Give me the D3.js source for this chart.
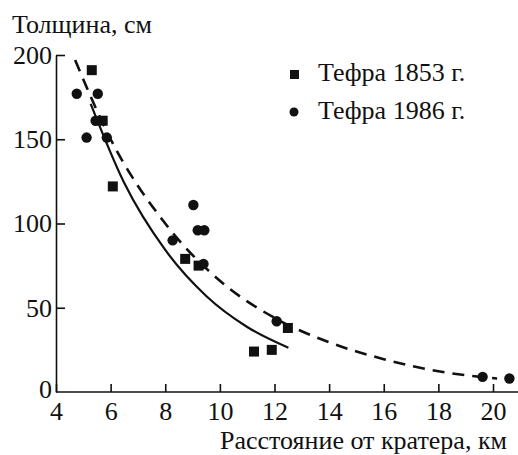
<!DOCTYPE html>
<html><head><meta charset="utf-8">
<script src="https://cdn.jsdelivr.net/npm/d3@7/dist/d3.min.js"></script>
</head><body style="margin:0">
<script>
// Data
const xTicks = [4, 6, 8, 10, 12, 14, 16, 18, 20];
const yTicks = [0, 50, 100, 150, 200];
const tephra1853 = [[5.31,191],[5.71,161],[6.08,122],[8.73,79],[9.22,75],[11.25,24],[11.9,25],[12.49,38]];
const tephra1986 = [[4.76,177],[5.12,151],[5.45,161],[5.53,177],[5.86,151],[8.27,90],[9.03,111],[9.19,96],[9.43,96],[9.4,76],[12.08,42],[19.62,9],[20.6,8]];
const fit1853 = [[5.27,171],[6.5,124],[8,84.3],[9.5,57],[11,38.6],[12.51,26.3]];
const fit1986 = [[4.7,197],[6,150],[8,100],[10,66],[12,44],[14,29.5],[16,19.5],[18,12.3],[20.15,8]];
const legendLabels = ["Тефра 1853 г.", "Тефра 1986 г."];

const W = 518, H = 455;
const FONT = "Liberation Serif";
const svg = d3.select("body").append("svg").attr("width", W).attr("height", H)
  .attr("font-family", FONT).style("font-family", FONT);
const ink = "#111";

const x = d3.scaleLinear().domain([4, 20]).range([56, 493]);
const y = d3.scaleLinear().domain([0, 200]).range([392, 55]);

// axes
const xAxis = d3.axisBottom(x).tickValues(xTicks).tickSize(-8).tickSizeOuter(0).tickPadding(10);
const gx = svg.append("g").attr("transform", `translate(0,${y(0)})`).call(xAxis);
gx.select(".domain").attr("d", `M${x(4)},0H518`);
const yAxis = d3.axisLeft(y).tickValues(yTicks).tickSize(-9).tickSizeOuter(0).tickPadding(4);
const gy = svg.append("g").attr("transform", `translate(${x(4)},0)`).call(yAxis);
gy.selectAll(".tick").filter(d => d === 0).select("line").remove();
[gx, gy].forEach(g => {
  g.attr("font-family", FONT).attr("font-size", 26);
  g.selectAll(".domain, .tick line").attr("stroke", ink).attr("stroke-width", 1.6);
  g.selectAll("text").attr("font-family", FONT).style("font-family", FONT)
    .attr("font-size", 26).attr("fill", ink);
});
gy.selectAll(".tick").filter(d => d === 0).select("text").attr("dy", "0.2em");

// fit lines
const line = d3.line().x(d => x(d[0])).y(d => y(d[1])).curve(d3.curveMonotoneX);
svg.append("path").datum(fit1853).attr("d", line).attr("fill", "none")
  .attr("stroke", ink).attr("stroke-width", 2.2);
svg.append("path").datum(fit1986).attr("d", line).attr("fill", "none")
  .attr("stroke", ink).attr("stroke-width", 2.6).attr("stroke-dasharray", "12,8");

// markers
svg.append("g").selectAll("rect").data(tephra1853).join("rect")
  .attr("x", d => x(d[0]) - 5).attr("y", d => y(d[1]) - 5)
  .attr("width", 10).attr("height", 10).attr("fill", ink);
svg.append("g").selectAll("circle").data(tephra1986).join("circle")
  .attr("cx", d => x(d[0])).attr("cy", d => y(d[1])).attr("r", 5.2).attr("fill", ink);

// legend
const lg = svg.append("g");
lg.append("rect").attr("x", 290).attr("y", 70).attr("width", 9).attr("height", 9).attr("fill", ink);
lg.append("circle").attr("cx", 294).attr("cy", 112).attr("r", 4.5).attr("fill", ink);
lg.selectAll("text").data(legendLabels).join("text")
  .attr("x", 318).attr("y", (d, i) => 81 + i * 38)
  .attr("font-family", FONT).style("font-family", FONT)
  .attr("font-size", 26).attr("fill", ink).text(d => d);

// axis titles
svg.append("text").attr("x", 12).attr("y", 33).attr("font-family", FONT).style("font-family", FONT)
  .attr("font-size", 26).attr("fill", ink).text("Толщина, см");
svg.append("text").attr("x", 507).attr("y", 449).attr("text-anchor", "end")
  .attr("font-family", FONT).style("font-family", FONT)
  .attr("font-size", 26).attr("fill", ink).text("Расстояние от кратера, км");
</script>
</body></html>
